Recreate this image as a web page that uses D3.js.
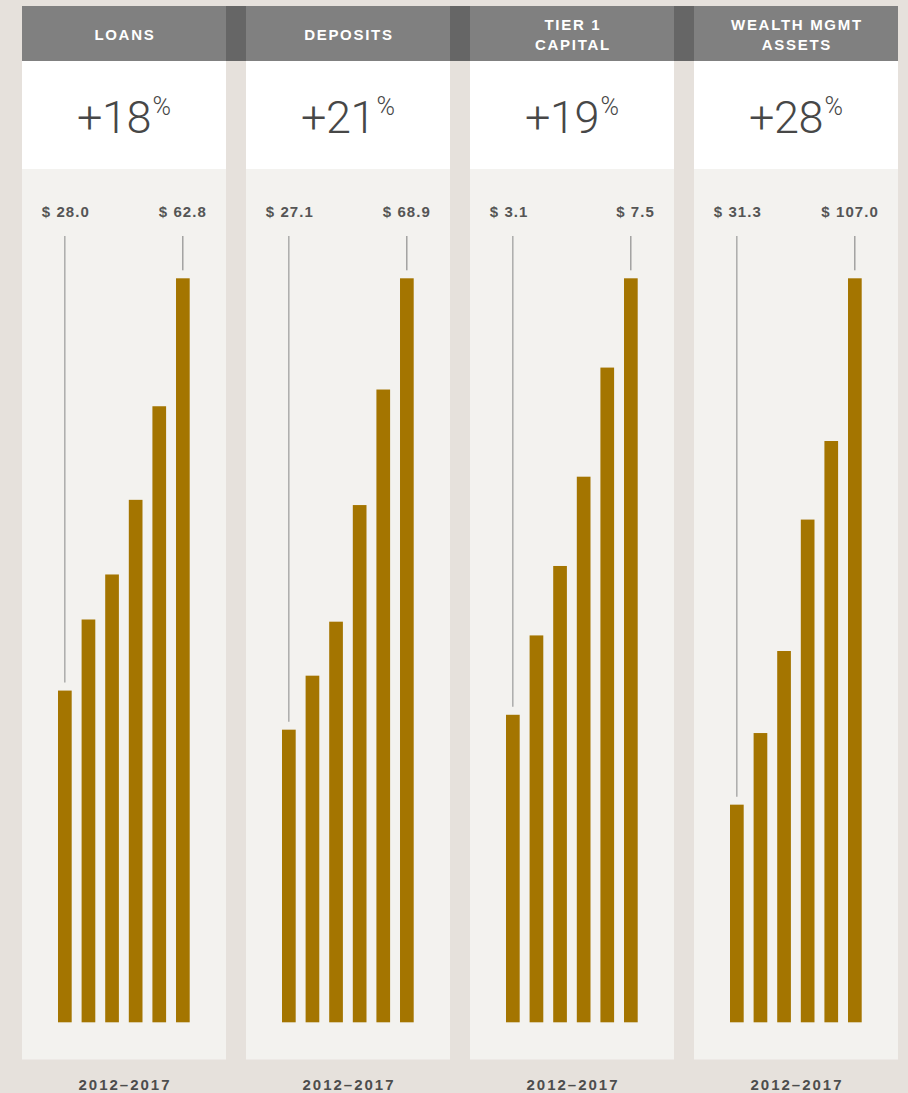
<!DOCTYPE html>
<html>
<head>
<meta charset="utf-8">
<script src="https://cdn.jsdelivr.net/npm/d3@7"></script>
<style>
  html, body { margin: 0; padding: 0; background: #e6e1dc; }
  svg { display: block; }
</style>
</head>
<body>
<svg id="chart" width="908" height="1093"></svg>
<script>
// ---- data ----
const years = ["2012", "2013", "2014", "2015", "2016", "2017"];
const titles = [["LOANS"], ["DEPOSITS"], ["TIER 1", "CAPITAL"], ["WEALTH MGMT", "ASSETS"]];
const growth = ["+18", "+21", "+19", "+28"];
const loans = [28.0, 34.0, 37.8, 44.1, 52.0, 62.8];
const deposits = [27.1, 32.1, 37.1, 47.9, 58.6, 68.9];
const tier1 = [3.1, 3.9, 4.6, 5.5, 6.6, 7.5];
const wealth = [31.3, 41.6, 53.4, 72.3, 83.6, 107.0];
const periodLabel = "2012\u20132017";

const seriesList = [loans, deposits, tier1, wealth];

// ---- layout ----
const svg = d3.select("#chart");
const W = 908, H = 1093;
const panelW = 204, panelStep = 224, panelX0 = 22;
const headerTop = 6, headerBottom = 61, whiteBottom = 169, panelBottom = 1059.5;
const barBase = 1022.3, barTopMax = 278.3;
const lineTop = 236, lineGap = 8;

const panelScale = d3.scaleBand().domain(d3.range(4)).range([panelX0, panelX0 + panelStep * 4]).paddingInner(0);
const x = d3.scaleBand().domain(years).range([36, 167.7]).paddingInner(0.42).paddingOuter(0);
const fmt = d3.format(".1f");
const SANS = "'Liberation Sans', Arial, Helvetica, sans-serif";

svg.append("rect").attr("width", W).attr("height", H).attr("fill", "#e6e1dc");

// dark strips between headers
for (let i = 0; i < 3; i++) {
  svg.append("rect")
    .attr("x", panelScale(i) + panelW).attr("y", headerTop)
    .attr("width", panelStep - panelW).attr("height", headerBottom - headerTop)
    .attr("fill", "#666666");
}

seriesList.forEach((vals, i) => {
  const g = svg.append("g").attr("transform", `translate(${panelScale(i)},0)`);
  const cx = panelW / 2;

  // header
  g.append("rect").attr("x", 0).attr("y", headerTop).attr("width", panelW)
    .attr("height", headerBottom - headerTop).attr("fill", "#808080");
  const lines = titles[i];
  const baselines = lines.length === 1 ? [40] : [29.5, 50];
  lines.forEach((t, k) => {
    g.append("text").attr("x", cx + 0.9).attr("y", baselines[k])
      .attr("text-anchor", "middle")
      .attr("font-family", SANS)
      .attr("font-weight", "bold").attr("font-size", 15)
      .attr("letter-spacing", "1.7px")
      .attr("fill", "#ffffff").text(t);
  });

  // white growth section
  g.append("rect").attr("x", 0).attr("y", headerBottom).attr("width", panelW)
    .attr("height", whiteBottom - headerBottom).attr("fill", "#ffffff");
  const big = g.append("text").attr("x", cx).attr("y", 132.7)
    .attr("text-anchor", "middle")
    .attr("font-family", "Roboto, 'Liberation Sans', sans-serif")
    .attr("font-weight", 300).attr("font-size", 45)
    .attr("fill", "#474747");
  big.append("tspan").attr("letter-spacing", "-0.5px").text(growth[i]);
  big.append("tspan").attr("font-size", 25).attr("dx", 1.5).attr("dy", -17.7).text("%");

  // chart section
  g.append("rect").attr("x", 0).attr("y", whiteBottom).attr("width", panelW)
    .attr("height", panelBottom - whiteBottom).attr("fill", "#f3f2ef");

  const y = d3.scaleLinear().domain([0, d3.max(vals)]).range([barBase, barTopMax]);

  g.selectAll("rect.bar").data(vals).join("rect")
    .attr("class", "bar")
    .attr("x", (d, j) => x(years[j]))
    .attr("y", d => y(d))
    .attr("width", x.bandwidth())
    .attr("height", d => y(0) - y(d))
    .attr("fill", "#a47500");

  const first = vals[0], last = vals[vals.length - 1];
  const xFirst = x(years[0]) + x.bandwidth() / 2;
  const xLast = x(years[years.length - 1]) + x.bandwidth() / 2;

  g.append("line").attr("x1", xFirst).attr("x2", xFirst)
    .attr("y1", lineTop).attr("y2", y(first) - lineGap)
    .attr("stroke", "#9a9a9a").attr("stroke-width", 1.2);
  g.append("line").attr("x1", xLast).attr("x2", xLast)
    .attr("y1", lineTop).attr("y2", y(last) - lineGap)
    .attr("stroke", "#7a7a7a").attr("stroke-width", 1);

  const labelStyle = sel => sel
    .attr("font-family", SANS)
    .attr("font-weight", "bold").attr("font-size", 15)
    .attr("letter-spacing", "1.1px")
    .attr("fill", "#555555");

  g.append("text").attr("x", 19.7).attr("y", 217.3)
    .attr("text-anchor", "start").call(labelStyle).text("$ " + fmt(first));
  g.append("text").attr("x", panelW - 19).attr("y", 217.3)
    .attr("text-anchor", "end").call(labelStyle).text("$ " + fmt(last));

  // footer
  g.append("text").attr("x", cx + 1).attr("y", 1089.5)
    .attr("text-anchor", "middle")
    .attr("font-family", SANS)
    .attr("font-weight", "bold").attr("font-size", 15)
    .attr("letter-spacing", "2px")
    .attr("fill", "#4d4d4d").text(periodLabel);
});
</script>
</body>
</html>
